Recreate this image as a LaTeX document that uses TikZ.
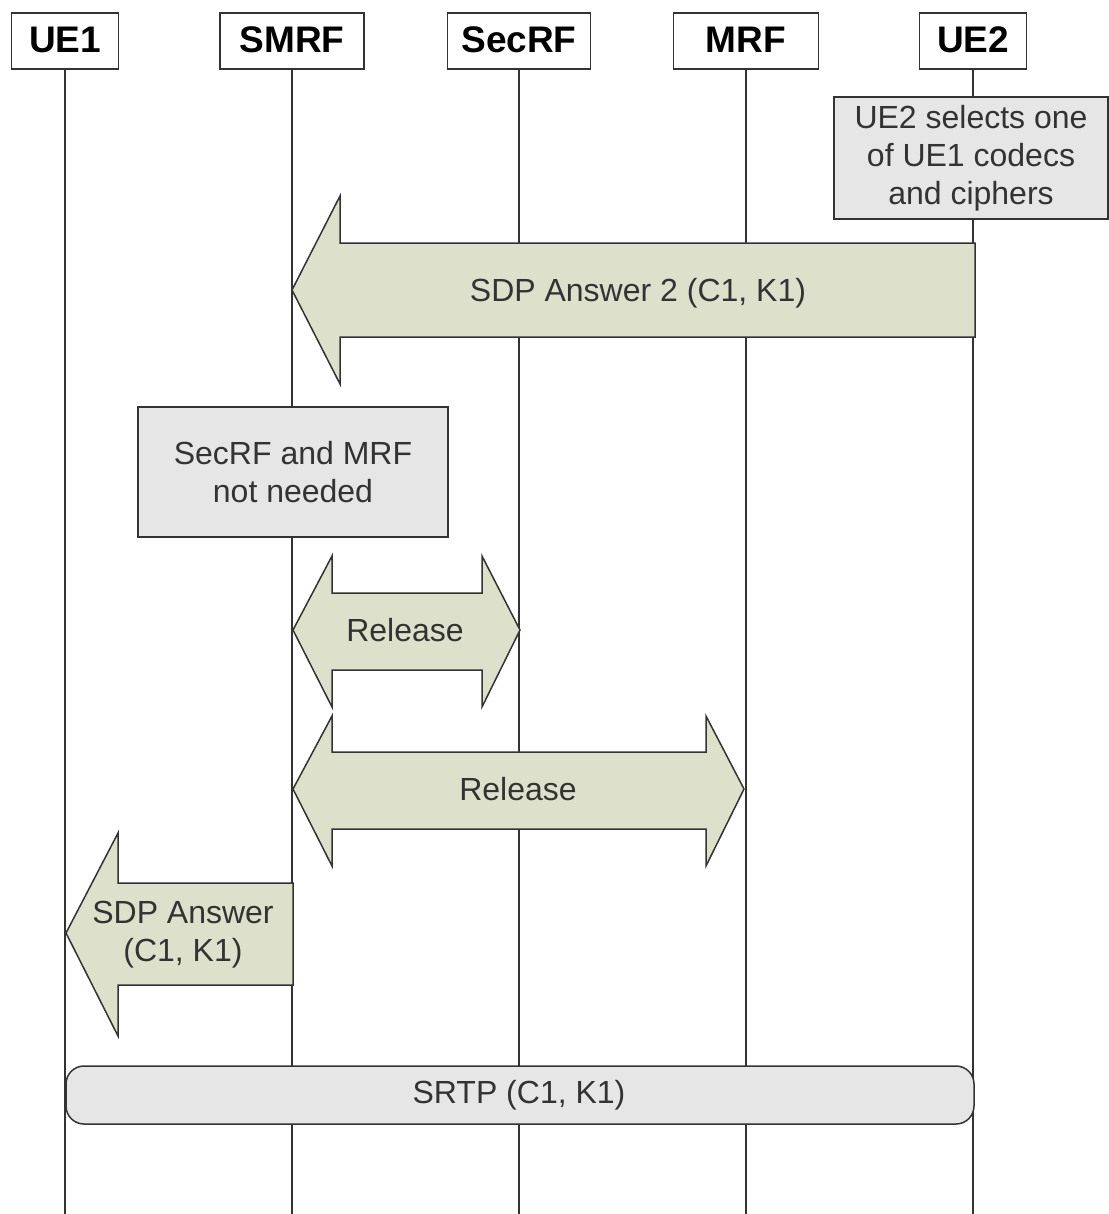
\documentclass[tikz,border=0pt]{standalone}
\usepackage{fontspec}
\setmainfont{Liberation Sans}
\usetikzlibrary{positioning}
\definecolor{arrowfill}{HTML}{DDE0CA}
\definecolor{notefill}{HTML}{E6E6E6}
\definecolor{linegray}{HTML}{333333}
\begin{document}
\begin{tikzpicture}[x=0.5pt,y=-0.5pt,
   every node/.style={font=\fontsize{16}{19}\selectfont,text=linegray,align=center},
   entity/.style={draw=linegray,line width=0.75pt,fill=white,text=black,
      font=\fontsize{18.5}{22}\selectfont\bfseries,minimum height=28pt,inner sep=0pt},
   lifeline/.style={draw=linegray,line width=0.75pt},
   note/.style={draw=linegray,line width=0.75pt,fill=notefill,inner sep=0pt},
   blockarrow/.style={draw=linegray,line width=0.75pt,fill=arrowfill,line join=miter}]
\useasboundingbox (0,0) rectangle (1108,1214);
% entities
\node[entity,minimum width=53.5pt] (ue1) at (65,41) {\raisebox{1.5pt}{UE1}};
\node[entity,minimum width=72pt] (smrf) at (292,41) {\raisebox{1.5pt}{SMRF}};
\node[entity,minimum width=71.5pt] (secrf) at (519,41) {\raisebox{1.5pt}{SecRF}};
\node[entity,minimum width=72.5pt] (mrf) at (746,41) {\raisebox{1.5pt}{MRF}};
\node[entity,minimum width=53.5pt] (ue2) at (973,41) {\raisebox{1.5pt}{UE2}};
\coordinate (bottom) at (0,1214);
\foreach \e in {ue1,smrf,secrf,mrf,ue2}
   \draw[lifeline] (\e.south) -- (\e.south |- bottom);
% UE2 choice
\node[note,minimum width=137pt,minimum height=61pt] (select) at (971,158)
   {UE2 selects one\\of UE1 codecs\\and ciphers};
\draw[blockarrow] (975,243) -- (340,243) -- (340,196) -- (292,290) -- (340,384)
   -- (340,337) -- (975,337) -- cycle;
\node (answer2) at (638,293) {SDP Answer 2 (C1, K1)};
% releases
\node[note,minimum width=155pt,minimum height=65pt] (notneeded) at (293,472)
   {SecRF and MRF\\not needed};
\draw[blockarrow] (293,630) -- (332,556) -- (332,593) -- (482,593) -- (482,556)
   -- (520,630) -- (482,707) -- (482,670) -- (332,670) -- (332,707) -- cycle;
\node (release1) at (405,630) {Release};
\draw[blockarrow] (293,789) -- (332,716) -- (332,752) -- (706,752) -- (706,716)
   -- (744,789) -- (706,866) -- (706,829) -- (332,829) -- (332,866) -- cycle;
\node (release2) at (518,789) {Release};
% answer to UE1
\draw[blockarrow] (66,933) -- (118,833) -- (118,883) -- (293,883) -- (293,985)
   -- (118,985) -- (118,1036) -- cycle;
\node (answer1) at (183,935) {SDP Answer\\(C1, K1)};
\draw[note,rounded corners=9pt] (66,1066) rectangle (974,1124);
\node (srtp) at (519,1095) {SRTP (C1, K1)};
\end{tikzpicture}
\end{document}
